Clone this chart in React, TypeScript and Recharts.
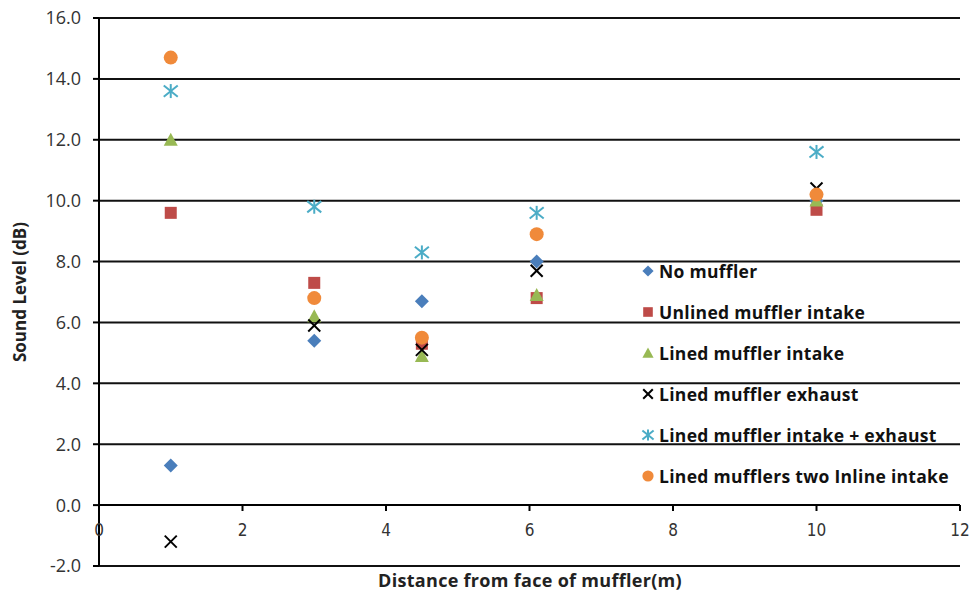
import {
  ScatterChart,
  Scatter,
  XAxis,
  YAxis,
  CartesianGrid,
  ReferenceLine,
} from 'recharts';

const distances = [1, 3, 4.5, 6.1, 10];
const noMuffler = [1.3, 5.4, 6.7, 8.0, 10.0];
const unlinedIntake = [9.6, 7.3, 5.3, 6.8, 9.7];
const linedIntake = [12.0, 6.2, 4.9, 6.9, 10.0];
const linedExhaust = [-1.2, 5.9, 5.1, 7.7, 10.4];
const intakeExhaust = [13.6, 9.8, 8.3, 9.6, 11.6];
const twoInline = [14.7, 6.8, 5.5, 8.9, 10.2];

const xTicks = [0, 2, 4, 6, 8, 10, 12];
const yTicks = [-2, 0, 2, 4, 6, 8, 10, 12, 14, 16];

const BLUE = '#4a7ebb';
const RED = '#be4b48';
const GREEN = '#98b954';
const CYAN = '#4bacc6';
const ORANGE = '#f08a3a';

type Kind = 'diamond' | 'square' | 'triangle' | 'x' | 'star' | 'circle';

function Marker({ kind, cx, cy, s = 1 }: { kind: Kind; cx: number; cy: number; s?: number }) {
  if (kind === 'diamond') {
    const r = 7 * s;
    return <polygon points={`${cx},${cy - r} ${cx + r},${cy} ${cx},${cy + r} ${cx - r},${cy}`} fill={BLUE} />;
  }
  if (kind === 'square') {
    const r = 6 * s;
    return <rect x={cx - r} y={cy - r} width={2 * r} height={2 * r} fill={RED} />;
  }
  if (kind === 'triangle') {
    const r = 7 * s;
    return <polygon points={`${cx},${cy - r} ${cx + r},${cy + r * 0.85} ${cx - r},${cy + r * 0.85}`} fill={GREEN} />;
  }
  if (kind === 'x') {
    const r = 6 * s;
    return (
      <g stroke="#000" strokeWidth={2}>
        <line x1={cx - r} y1={cy - r} x2={cx + r} y2={cy + r} />
        <line x1={cx - r} y1={cy + r} x2={cx + r} y2={cy - r} />
      </g>
    );
  }
  if (kind === 'star') {
    const r = 7 * s;
    return (
      <g stroke={CYAN} strokeWidth={2}>
        <line x1={cx - r} y1={cy - r * 0.8} x2={cx + r} y2={cy + r * 0.8} />
        <line x1={cx - r} y1={cy + r * 0.8} x2={cx + r} y2={cy - r * 0.8} />
        <line x1={cx} y1={cy - r} x2={cx} y2={cy + r} />
      </g>
    );
  }
  return <circle cx={cx} cy={cy} r={7 * s} fill={ORANGE} />;
}

const series: { name: string; values: number[]; kind: Kind }[] = [
  { name: 'No muffler', values: noMuffler, kind: 'diamond' },
  { name: 'Unlined muffler intake', values: unlinedIntake, kind: 'square' },
  { name: 'Lined muffler intake', values: linedIntake, kind: 'triangle' },
  { name: 'Lined muffler exhaust', values: linedExhaust, kind: 'x' },
  { name: 'Lined muffler intake + exhaust', values: intakeExhaust, kind: 'star' },
  { name: 'Lined mufflers two Inline intake', values: twoInline, kind: 'circle' },
];

// x axis crosses at y = 0, so ticks and labels sit up inside the plot
const XTick = (props: any) => {
  const { x, y, payload } = props;
  return (
    <g>
      <line x1={x} x2={x} y1={y - 61} y2={y - 55} stroke="#000" strokeWidth={2} />
      <text x={x} y={y - 30} textAnchor="middle" fontSize={17} fill="#333"
        fontFamily="'Liberation Sans Narrow', 'DejaVu Sans Condensed', sans-serif">
        {payload.value}
      </text>
    </g>
  );
};

const titleStyle = { fontFamily: 'Open Sans', fontWeight: 700, fill: '#222' };

export default function App() {
  return (
    <div style={{ position: 'absolute', left: 0, top: 0, width: 972, height: 594, background: '#fff' }}>
      <ScatterChart width={972} height={594} margin={{ top: 18, right: 12, bottom: 0, left: 0 }}>
        <CartesianGrid horizontal vertical={false} stroke="#111" strokeWidth={2} />
        <XAxis
          type="number"
          dataKey="x"
          domain={[0, 12]}
          ticks={xTicks}
          height={28}
          axisLine={false}
          tickLine={false}
          tickSize={0}
          tickMargin={0}
          tick={<XTick />}
          label={{
            content: () => (
              <text x={530} y={587} textAnchor="middle" fontSize={18} letterSpacing={0.3} style={titleStyle}>
                Distance from face of muffler(m)
              </text>
            ),
          }}
        />
        <YAxis
          type="number"
          dataKey="y"
          domain={[-2, 16]}
          ticks={yTicks}
          width={99}
          axisLine={{ stroke: '#000', strokeWidth: 2 }}
          tickLine={{ stroke: '#000', strokeWidth: 2 }}
          tickSize={6}
          tickMargin={12}
          tickFormatter={(v: number) => v.toFixed(1)}
          tick={{ fontFamily: 'Open Sans', fontSize: 18, fill: '#333' }}
          label={{
            content: () => (
              <text x={26} y={292} transform="rotate(-90 26 292)" textAnchor="middle" fontSize={17} style={titleStyle}>
                Sound Level (dB)
              </text>
            ),
          }}
        />
        <ReferenceLine y={0} stroke="#000" strokeWidth={2} />
        {series.map((s) => (
          <Scatter
            key={s.name}
            name={s.name}
            data={distances.map((x, i) => ({ x, y: s.values[i] }))}
            isAnimationActive={false}
            shape={(p: any) => <Marker kind={s.kind} cx={p.cx} cy={p.cy} />}
          />
        ))}
      </ScatterChart>
      <div style={{ position: 'absolute', left: 640, top: 250, fontFamily: 'Open Sans', fontWeight: 700, fontSize: 17.5, letterSpacing: 0.3, color: '#111' }}>
        {series.map((s) => (
          <div key={s.name} style={{ height: 41, display: 'flex', alignItems: 'center', whiteSpace: 'nowrap' }}>
            <svg width={16} height={16} style={{ marginRight: 3 }}>
              <Marker kind={s.kind} cx={8} cy={8} s={0.8} />
            </svg>
            {s.name}
          </div>
        ))}
      </div>
    </div>
  );
}
